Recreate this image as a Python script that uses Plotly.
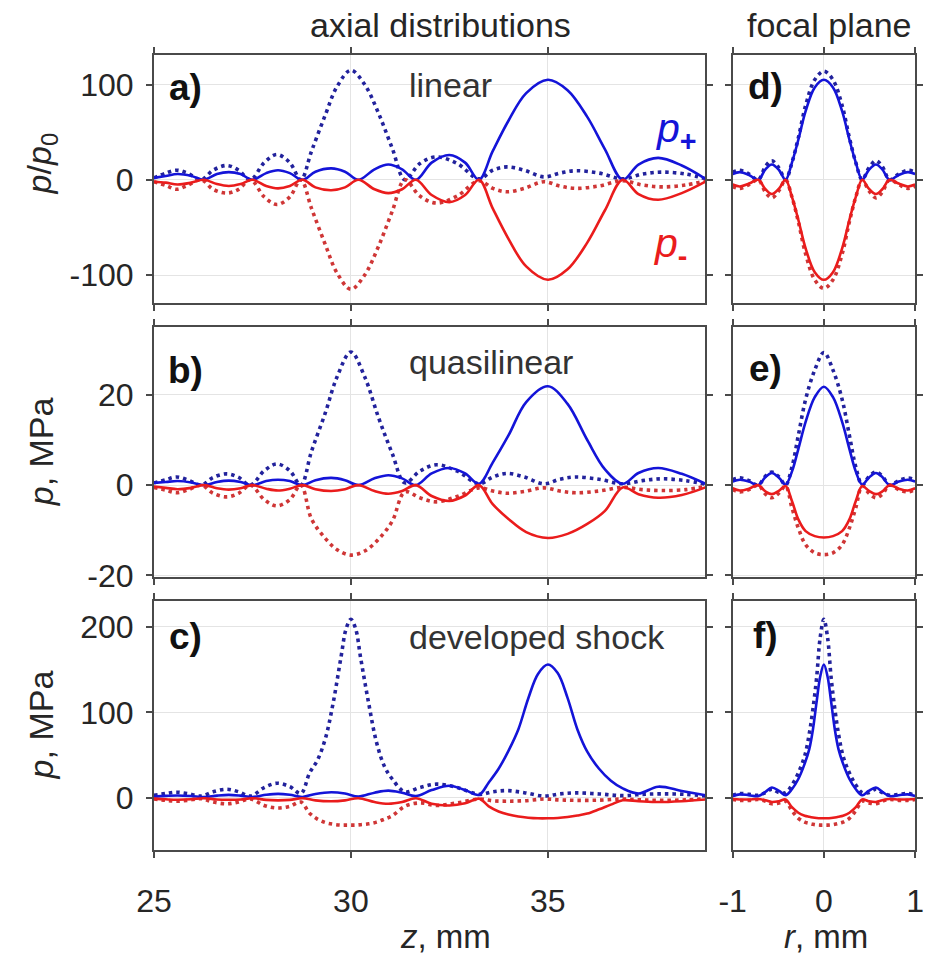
import plotly.graph_objects as go
from plotly.subplots import make_subplots

# ---------------- data ----------------
# axial distributions, focus near 35 mm (solid) and 30 mm (dotted)
z_s = [25.0, 25.3, 25.6, 25.95, 26.27, 26.6, 26.9, 27.2, 27.5, 27.85, 28.15, 28.45, 28.77,
       29.1, 29.5, 29.85, 30.19, 30.6, 30.95, 31.3, 31.65, 32.05, 32.5, 32.9, 33.25,
       33.6, 34.0, 34.45, 35.0, 35.5, 36.0, 36.45, 36.9, 37.3, 37.8, 38.4, 39.0]
z_d = [25.0, 25.3, 25.57, 25.85, 26.2, 26.5, 26.85, 27.15, 27.45, 27.8, 28.12, 28.45, 28.73,
       29.0, 29.35, 29.65, 30.0, 30.35, 30.7, 31.05, 31.37, 31.75, 32.17, 32.7, 33.25,
       33.6, 33.96, 34.4, 34.9, 35.3, 35.7, 36.3, 36.9, 37.4, 37.9, 38.5, 39.0]

# a) linear, p/p0
a_plus_solid = [2, 4, 6, 4, 0, 6, 8, 6, 0, 7, 10, 7, 0, 8.5, 12, 8.5, 0, 11, 16, 11, 0, 18, 26, 18, 0,
                30, 62, 91, 105, 94, 66, 32, 0, 16, 23, 15, 1]
a_minus_solid = [-2, -3, -5, -3, 0, -4.5, -6.5, -4.5, 0, -6.5, -9, -6.5, 0, -8, -11, -8, 0, -10, -14, -10, 0,
                 -16, -23.5, -16, 0, -30, -62, -91, -105, -94, -66, -32, 0, -15, -21, -14, -2]
a_plus_dot = [2, 7, 10, 7, 0, 10, 15, 10, 0, 18, 26.5, 18, 0, 30, 68, 98, 115, 100, 70, 33, 0,
              17, 24, 17, 1, 10, 13.5, 10, 3, 7, 9.5, 7, 1, 6, 8, 6, 1]
a_minus_dot = [-2, -6, -10, -6, 0, -10, -14, -10, 0, -18, -26, -18, 0, -30, -68, -98, -115, -100, -70, -33, 0,
               -17, -24.5, -17, -1, -9, -12.6, -9, -2, -6.5, -9, -6.5, -1, -5.5, -7.5, -5.5, -1]

# b) quasilinear, MPa
b_plus_solid = [0.5, 0.7, 0.9, 0.6, 0, 0.7, 1.0, 0.7, 0, 0.9, 1.2, 0.9, 0, 1.1, 1.6, 1.1, 0, 1.5, 2.2, 1.5, 0,
                2.6, 3.8, 2.6, 0.3, 5, 11, 18.4, 21.9, 18, 10, 3.5, 0.3, 2.7, 3.8, 2.5, 0.3]
b_minus_solid = [-0.3, -0.6, -0.9, -0.6, 0, -0.7, -1.0, -0.7, 0, -0.8, -1.2, -0.8, 0, -0.9, -1.3, -0.9, 0,
                 -1.3, -1.9, -1.3, 0, -2.4, -3.5, -2.3, 0, -4.2, -7.5, -10.4, -11.7, -10.8, -8.6, -5.7, -0.5,
                 -2, -2.8, -2.2, -0.5]
b_plus_dot = [0.5, 1.2, 1.8, 1.2, 0, 1.7, 2.5, 1.7, 0, 3.2, 4.7, 3.2, 0, 7.5, 16, 24, 29.5, 24, 15, 7, 0.5,
              3.1, 4.5, 3.1, 0.3, 1.8, 2.6, 1.8, 0.3, 1.3, 1.8, 1.3, 0.3, 1.0, 1.4, 1.0, 0.2]
b_minus_dot = [-0.5, -1.1, -1.7, -1.1, 0, -1.8, -2.6, -1.8, 0, -3.2, -4.6, -3.2, 0, -7.5, -11.8, -14.3, -15.5,
               -14.6, -12, -8, -1.5, -2.8, -3.7, -2.5, -0.6, -1.3, -1.8, -1.4, -0.6, -1.3, -1.7, -1.3, -0.5,
               -1.0, -1.2, -1.0, -0.3]

# c) developed shock, MPa
z_cs = [25.0, 25.3, 25.6, 25.95, 26.27, 26.6, 26.9, 27.2, 27.5, 27.85, 28.15, 28.45, 28.77,
        29.1, 29.5, 29.85, 30.19, 30.6, 30.95, 31.3, 31.65, 32.05, 32.5, 32.9, 33.25,
        33.5, 33.75, 34.0, 34.25, 34.5, 34.75, 35.0, 35.25, 35.5, 35.75, 36.0, 36.3, 36.6,
        36.9, 37.3, 37.8, 38.4, 39.0]
c_plus_solid = [1.5, 2.2, 2.7, 2.0, 0.8, 2.5, 3.4, 2.5, 1, 3.5, 4.6, 3.5, 1, 4.5, 6.5, 5, 1.5, 6, 8.4, 6, 2,
                9, 14, 9, 3.4, 18, 34, 55, 80, 116, 145, 156, 146, 117, 80, 54, 34, 20, 11, 5, 13, 8, 3]
c_minus_solid = [-1, -1.8, -2.3, -1.8, -0.5, -2, -2.3, -2, -0.5, -2.5, -3, -2.5, -0.5, -3, -4, -3, -0.5,
                 -5, -7, -5, -0.5, -7, -9, -6.5, -1, -10, -16, -19.7, -22, -23.3, -24, -24, -23.6, -22.5,
                 -20.8, -18.5, -13.5, -8, -3, -4, -5, -4, -2]
z_cd = [25.0, 25.3, 25.57, 25.85, 26.2, 26.5, 26.85, 27.15, 27.45, 27.8, 28.12, 28.45, 28.73,
        28.95, 29.15, 29.35, 29.55, 29.75, 29.88, 30.0, 30.12, 30.25, 30.45, 30.65, 30.85, 31.05,
        31.37, 31.75, 32.17, 32.7, 33.25, 33.6, 33.96, 34.4, 34.9, 35.3, 35.7, 36.3, 36.9, 37.4,
        37.9, 38.5, 39.0]
c_plus_dot = [3, 5, 6.5, 5, 2, 7, 10, 7, 2, 12, 17, 13, 5, 29, 44, 69, 111, 165, 198, 209, 198, 163, 111,
              65, 37, 22, 7, 12, 16, 12, 4, 7, 8.4, 6, 2, 4.5, 5.7, 4.5, 2.5, 4, 4.6, 4, 2]
c_minus_dot = [-1.5, -3, -4, -3, -1, -5, -7, -5, -1.5, -9, -12, -10, -5, -18, -25, -29, -31, -32, -32, -32,
               -32, -31.5, -30.5, -28.5, -25, -21, -10, -6, -9, -6, -1.5, -3.5, -4, -3.5, -1.5, -2.5, -3,
               -2.8, -1.5, -2.5, -3, -2.5, -1]

# focal plane, radial distributions
r_de = [-1.0, -0.92, -0.82, -0.72, -0.64, -0.57, -0.49, -0.42, -0.35, -0.28, -0.2, -0.1, 0.0,
        0.1, 0.2, 0.28, 0.35, 0.42, 0.49, 0.57, 0.64, 0.72, 0.82, 0.92, 1.0]
d_plus_solid = [6, 8, 5, 0, 11, 16, 10, 0, 18, 42, 72, 97, 105, 97, 72, 42, 18, 0, 10, 16, 11, 0, 5, 8, 6]
d_minus_solid = [-5, -7, -4, 0, -10, -15, -9, 0, -18, -42, -72, -97, -105, -97, -72, -42, -18, 0, -9,
                 -15, -10, 0, -4, -7, -5]
d_plus_dot = [8, 10, 6, 0, 14, 20, 12, 0, 18, 44, 78, 105, 114, 105, 78, 44, 18, 0, 12, 20, 14, 0, 6, 10, 8]
d_minus_dot = [-7, -9, -5, 0, -13, -19, -11, 0, -18, -44, -78, -105, -114, -105, -78, -44, -18, 0, -11,
               -19, -13, 0, -5, -9, -7]

e_plus_solid = [0.8, 1.2, 0.8, 0, 1.8, 2.7, 1.6, 0.1, 3, 8, 14, 19.5, 21.8, 19.5, 14, 8, 3, 0.1, 1.6, 2.7,
                1.8, 0, 0.8, 1.2, 0.8]
e_minus_solid = [-0.7, -1.2, -0.8, 0, -1.4, -2, -1.2, -0.2, -3.5, -7.6, -10.2, -11.3, -11.6, -11.3, -10.2,
                 -7.6, -3.5, -0.2, -1.2, -2, -1.4, 0, -0.8, -1.2, -0.7]
e_plus_dot = [1.2, 1.6, 1.0, 0, 2, 2.9, 1.8, 0, 4, 11, 19, 25.5, 29.4, 25.5, 19, 11, 4, 0, 1.8, 2.9, 2,
              0, 1.0, 1.6, 1.2]
e_minus_dot = [-1.0, -1.5, -1.0, 0, -2, -2.8, -1.7, -0.2, -5, -9.5, -13.2, -15, -15.4, -15, -13.2, -9.5,
               -5, -0.2, -1.7, -2.8, -2, 0, -1.0, -1.5, -1.0]

r_f = [-1.0, -0.92, -0.82, -0.72, -0.64, -0.57, -0.49, -0.42, -0.35, -0.28, -0.21, -0.16, -0.12, -0.08,
       -0.04, 0.0, 0.04, 0.08, 0.12, 0.16, 0.21, 0.28, 0.35, 0.42, 0.49, 0.57, 0.64, 0.72, 0.82, 0.92, 1.0]
f_plus_solid = [2, 4, 3, 2, 7, 12, 8, 3, 10, 22, 40, 57, 80, 112, 142, 156, 142, 112, 80, 57, 40, 22, 10,
                3, 8, 12, 7, 2, 3, 4, 2]
f_minus_solid = [-1.5, -2, -2, -1.5, -3, -5, -4, -2, -11, -17.5, -21, -22.2, -23, -23.6, -24, -24, -24,
                 -23.6, -23, -22.2, -21, -17.5, -11, -2, -4, -5, -3, -1.5, -2, -2, -1.5]
f_plus_dot = [3, 5, 4, 3, 6, 10, 6, 6, 15, 29, 49, 75, 104, 140, 188, 209, 188, 140, 104, 75, 49, 29, 15,
              6, 6, 10, 6, 3, 4, 5, 3]
f_minus_dot = [-2, -3, -3, -2, -4, -7, -6, -4, -15, -24, -28.5, -30, -31, -31.7, -32, -32, -32, -31.7, -31,
               -30, -28.5, -24, -15, -4, -6, -7, -4, -2, -3, -3, -2]

x_ticks_z = [25, 30, 35]
x_ticks_r = [-1, 0, 1]
y_ticks = [[-100, 0, 100], [-20, 0, 20], [0, 100, 200]]
y_ticktext = [["-100", "0", "100"], ["-20", "0", "20"], ["0", "100", "200"]]
y_ranges = [[-129, 131], [-20.3, 35], [-61, 230]]

# ---------------- styles ----------------
W, H = 929, 973
FONT = "Liberation Sans, Arial, Helvetica, sans-serif"
BLUE = "#1414d8"
BLUE_D = "#22229c"
RED = "#ea1c1c"
RED_D = "#cf3636"
AXC = "#4a4a4a"

fig = make_subplots(rows=3, cols=2)

panels = [
    (1, 1, z_s, a_plus_solid, a_minus_solid, z_d, a_plus_dot, a_minus_dot),
    (2, 1, z_s, b_plus_solid, b_minus_solid, z_d, b_plus_dot, b_minus_dot),
    (3, 1, z_cs, c_plus_solid, c_minus_solid, z_cd, c_plus_dot, c_minus_dot),
    (1, 2, r_de, d_plus_solid, d_minus_solid, r_de, d_plus_dot, d_minus_dot),
    (2, 2, r_de, e_plus_solid, e_minus_solid, r_de, e_plus_dot, e_minus_dot),
    (3, 2, r_f, f_plus_solid, f_minus_solid, r_f, f_plus_dot, f_minus_dot),
]
for row, col, xs, ps, ms, xd, pd_, md in panels:
    fig.add_trace(go.Scatter(x=xd, y=pd_, mode="lines", line=dict(color=BLUE_D, width=3.6, dash="3.5px,4px",
                  shape="spline", smoothing=1.0)), row=row, col=col)
    fig.add_trace(go.Scatter(x=xd, y=md, mode="lines", line=dict(color=RED_D, width=3.6, dash="3.5px,4px",
                  shape="spline", smoothing=1.0)), row=row, col=col)
    fig.add_trace(go.Scatter(x=xs, y=ps, mode="lines", line=dict(color=BLUE, width=2.6,
                  shape="spline", smoothing=1.0)), row=row, col=col)
    fig.add_trace(go.Scatter(x=xs, y=ms, mode="lines", line=dict(color=RED, width=2.6,
                  shape="spline", smoothing=1.0)), row=row, col=col)

def px_x(p):
    return p / W

def px_y(p):
    return 1 - p / H

xdom_l = [px_x(140), px_x(708)]
xdom_r = [px_x(736), px_x(924)]
ydoms = [[px_y(308), px_y(56)], [px_y(587), px_y(333)], [px_y(865), px_y(612)]]

common = dict(showline=True, linecolor=AXC, linewidth=2, mirror="ticks", ticks="outside",
              ticklen=6, tickwidth=2, tickcolor=AXC, showgrid=True, gridcolor="#e4e4e4",
              gridwidth=1, zeroline=False, ticklabeloverflow="allow",
              tickfont=dict(family=FONT, size=32, color="#262626"))

layout_axes = {}
for row in range(3):
    for col in range(2):
        idx = row * 2 + col + 1
        xa = "xaxis" if idx == 1 else f"xaxis{idx}"
        ya = "yaxis" if idx == 1 else f"yaxis{idx}"
        xd = dict(common)
        yd = dict(common)
        if col == 0:
            xd.update(domain=xdom_l, range=[25, 39], tickvals=x_ticks_z,
                      ticktext=[str(v) for v in x_ticks_z])
        else:
            xd.update(domain=xdom_r, range=[-1, 1], tickvals=x_ticks_r,
                      ticktext=["-1", "0", "1"])
        xd.update(showticklabels=(row == 2), ticklabelstandoff=16)
        yd.update(domain=ydoms[row], range=y_ranges[row], tickvals=y_ticks[row],
                  ticktext=y_ticktext[row], showticklabels=(col == 0), ticklabelstandoff=6)
        layout_axes[xa] = xd
        layout_axes[ya] = yd

fig.update_layout(**layout_axes)

ann = []

def add_text(text, x, y, size, color="#262626", xanchor="center", yanchor="middle", angle=0):
    ann.append(dict(text=text, x=px_x(x), y=px_y(y), xref="paper", yref="paper", showarrow=False,
                    xanchor=xanchor, yanchor=yanchor, textangle=angle,
                    font=dict(family=FONT, size=size, color=color)))

add_text("axial distributions", 435, 25, 34)
add_text("focal plane", 835, 25, 34)
add_text("<i>z</i>, mm", 440, 953, 33)
add_text("<i>r</i>, mm", 832, 953, 33)
add_text("<i>p</i>/<i>p</i><sub>0</sub>", 24, 166, 34, angle=-90)
add_text("<i>p</i>, MPa", 24, 460, 34, angle=-90)
add_text("<i>p</i>, MPa", 24, 738, 34, angle=-90)

for lab, x, y in [("a)", 173, 89), ("b)", 172, 377), ("c)", 172, 648),
                  ("d)", 770, 88), ("e)", 770, 375), ("f)", 770, 647)]:
    add_text(f"<b>{lab}</b>", x, y, 37, color="#111111")

add_text("linear", 401, 87, 34, color="#333333", xanchor="left")
add_text("quasilinear", 401, 368, 34, color="#333333", xanchor="left")
add_text("developed shock", 401, 648, 34, color="#333333", xanchor="left")

add_text("<i>p</i><sub><b>+</b></sub>", 678, 133, 41, color=BLUE)
add_text("<i>p</i><sub><b>-</b></sub>", 672, 250, 41, color=RED)

fig.update_layout(width=W, height=H, margin=dict(l=0, r=0, t=0, b=0),
                  paper_bgcolor="white", plot_bgcolor="white", showlegend=False,
                  annotations=ann, font=dict(family=FONT))

fig.write_html("out.html", config={"displayModeBar": False},
               post_script="document.body.style.margin='0';document.body.style.overflow='hidden';")
